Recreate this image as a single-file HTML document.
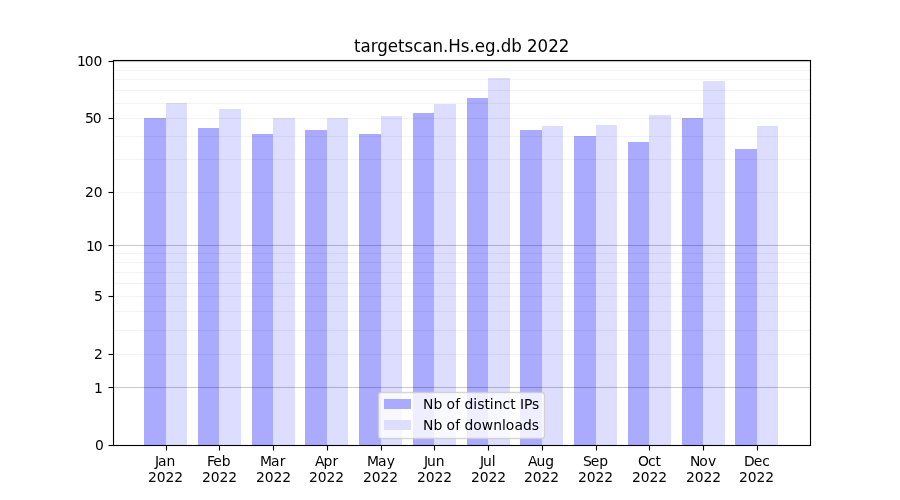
<!DOCTYPE html>
<html lang="en">
<head>
<meta charset="utf-8">
<title>targetscan.Hs.eg.db 2022</title>
<style>
html,body{margin:0;padding:0;background:#fff;}
body{width:900px;height:500px;overflow:hidden;}
svg{display:block;will-change:transform;}
text{font-family:"DejaVu Sans","Liberation Sans",sans-serif;fill:#000;white-space:pre;}
.t10{font-size:13.889px;}
.t12{font-size:16.667px;}
</style>
</head>
<body>
<svg width="900" height="500" viewBox="0 0 900 500">
<!-- bars: Nb of distinct IPs (#aaaaff) and Nb of downloads (#ddddff) per month -->
<g shape-rendering="crispEdges">
<rect x="144" y="118" width="22" height="327" fill="#aaaaff"/>
<rect x="166" y="103" width="21" height="342" fill="#ddddff"/>
<rect x="198" y="128" width="21" height="317" fill="#aaaaff"/>
<rect x="219" y="109" width="22" height="336" fill="#ddddff"/>
<rect x="252" y="134" width="21" height="311" fill="#aaaaff"/>
<rect x="273" y="118" width="22" height="327" fill="#ddddff"/>
<rect x="305" y="130" width="22" height="315" fill="#aaaaff"/>
<rect x="327" y="118" width="21" height="327" fill="#ddddff"/>
<rect x="359" y="134" width="22" height="311" fill="#aaaaff"/>
<rect x="381" y="116" width="21" height="329" fill="#ddddff"/>
<rect x="413" y="113" width="21" height="332" fill="#aaaaff"/>
<rect x="434" y="104" width="22" height="341" fill="#ddddff"/>
<rect x="467" y="98" width="21" height="347" fill="#aaaaff"/>
<rect x="488" y="78" width="22" height="367" fill="#ddddff"/>
<rect x="520" y="130" width="22" height="315" fill="#aaaaff"/>
<rect x="542" y="126" width="21" height="319" fill="#ddddff"/>
<rect x="574" y="136" width="22" height="309" fill="#aaaaff"/>
<rect x="596" y="125" width="21" height="320" fill="#ddddff"/>
<rect x="628" y="142" width="21" height="303" fill="#aaaaff"/>
<rect x="649" y="115" width="22" height="330" fill="#ddddff"/>
<rect x="682" y="118" width="21" height="327" fill="#aaaaff"/>
<rect x="703" y="81" width="22" height="364" fill="#ddddff"/>
<rect x="735" y="149" width="22" height="296" fill="#aaaaff"/>
<rect x="757" y="126" width="21" height="319" fill="#ddddff"/>
</g>
<!-- horizontal grid lines -->
<g shape-rendering="crispEdges" fill="#000">
<rect x="112.5" y="386" width="697.5" height="3" fill-opacity="0.011"/>
<rect x="112.5" y="387" width="697.5" height="1" fill-opacity="0.192"/>
<rect x="112.5" y="353" width="697.5" height="3" fill-opacity="0.004"/>
<rect x="112.5" y="354" width="697.5" height="1" fill-opacity="0.048"/>
<rect x="112.5" y="329" width="697.5" height="3" fill-opacity="0.004"/>
<rect x="112.5" y="330" width="697.5" height="1" fill-opacity="0.048"/>
<rect x="112.5" y="310" width="697.5" height="3" fill-opacity="0.004"/>
<rect x="112.5" y="311" width="697.5" height="1" fill-opacity="0.048"/>
<rect x="112.5" y="295" width="697.5" height="3" fill-opacity="0.004"/>
<rect x="112.5" y="296" width="697.5" height="1" fill-opacity="0.048"/>
<rect x="112.5" y="282" width="697.5" height="3" fill-opacity="0.004"/>
<rect x="112.5" y="283" width="697.5" height="1" fill-opacity="0.048"/>
<rect x="112.5" y="271" width="697.5" height="3" fill-opacity="0.004"/>
<rect x="112.5" y="272" width="697.5" height="1" fill-opacity="0.048"/>
<rect x="112.5" y="261" width="697.5" height="3" fill-opacity="0.004"/>
<rect x="112.5" y="262" width="697.5" height="1" fill-opacity="0.048"/>
<rect x="112.5" y="252" width="697.5" height="3" fill-opacity="0.004"/>
<rect x="112.5" y="253" width="697.5" height="1" fill-opacity="0.048"/>
<rect x="112.5" y="244" width="697.5" height="3" fill-opacity="0.011"/>
<rect x="112.5" y="245" width="697.5" height="1" fill-opacity="0.192"/>
<rect x="112.5" y="191" width="697.5" height="3" fill-opacity="0.004"/>
<rect x="112.5" y="192" width="697.5" height="1" fill-opacity="0.048"/>
<rect x="112.5" y="158" width="697.5" height="3" fill-opacity="0.004"/>
<rect x="112.5" y="159" width="697.5" height="1" fill-opacity="0.048"/>
<rect x="112.5" y="135" width="697.5" height="3" fill-opacity="0.004"/>
<rect x="112.5" y="136" width="697.5" height="1" fill-opacity="0.048"/>
<rect x="112.5" y="117" width="697.5" height="3" fill-opacity="0.004"/>
<rect x="112.5" y="118" width="697.5" height="1" fill-opacity="0.048"/>
<rect x="112.5" y="102" width="697.5" height="3" fill-opacity="0.004"/>
<rect x="112.5" y="103" width="697.5" height="1" fill-opacity="0.048"/>
<rect x="112.5" y="89" width="697.5" height="3" fill-opacity="0.004"/>
<rect x="112.5" y="90" width="697.5" height="1" fill-opacity="0.048"/>
<rect x="112.5" y="78" width="697.5" height="3" fill-opacity="0.004"/>
<rect x="112.5" y="79" width="697.5" height="1" fill-opacity="0.048"/>
<rect x="112.5" y="69" width="697.5" height="3" fill-opacity="0.004"/>
<rect x="112.5" y="70" width="697.5" height="1" fill-opacity="0.048"/>
<rect x="112.5" y="60" width="697.5" height="3" fill-opacity="0.011"/>
<rect x="112.5" y="61" width="697.5" height="1" fill-opacity="0.192"/>
</g>
<!-- axes frame and ticks -->
<g shape-rendering="crispEdges" fill="#000">
<rect x="112" y="60" width="3" height="386" fill-opacity="0.0555"/>
<rect x="113" y="59" width="1" height="388" fill-opacity="0.0555"/>
<rect x="809" y="60" width="3" height="386" fill-opacity="0.0555"/>
<rect x="810" y="59" width="1" height="388" fill-opacity="0.0555"/>
<rect x="113" y="59" width="698" height="3" fill-opacity="0.0555"/>
<rect x="112" y="60" width="700" height="1" fill-opacity="0.0555"/>
<rect x="113" y="444" width="698" height="3" fill-opacity="0.0555"/>
<rect x="112" y="445" width="700" height="1" fill-opacity="0.0555"/>
<rect x="113" y="60" width="1" height="386"/>
<rect x="810" y="60" width="1" height="386"/>
<rect x="113" y="60" width="698" height="1"/>
<rect x="113" y="445" width="698" height="1"/>
<rect x="165" y="446" width="3" height="4" fill-opacity="0.0555"/>
<rect x="165" y="450" width="3" height="1" fill-opacity="0.02775"/>
<rect x="166" y="446" width="1" height="4"/>
<rect x="166" y="450" width="1" height="1" fill-opacity="0.5"/>
<rect x="218" y="446" width="3" height="4" fill-opacity="0.0555"/>
<rect x="218" y="450" width="3" height="1" fill-opacity="0.02775"/>
<rect x="219" y="446" width="1" height="4"/>
<rect x="219" y="450" width="1" height="1" fill-opacity="0.5"/>
<rect x="272" y="446" width="3" height="4" fill-opacity="0.0555"/>
<rect x="272" y="450" width="3" height="1" fill-opacity="0.02775"/>
<rect x="273" y="446" width="1" height="4"/>
<rect x="273" y="450" width="1" height="1" fill-opacity="0.5"/>
<rect x="326" y="446" width="3" height="4" fill-opacity="0.0555"/>
<rect x="326" y="450" width="3" height="1" fill-opacity="0.02775"/>
<rect x="327" y="446" width="1" height="4"/>
<rect x="327" y="450" width="1" height="1" fill-opacity="0.5"/>
<rect x="380" y="446" width="3" height="4" fill-opacity="0.0555"/>
<rect x="380" y="450" width="3" height="1" fill-opacity="0.02775"/>
<rect x="381" y="446" width="1" height="4"/>
<rect x="381" y="450" width="1" height="1" fill-opacity="0.5"/>
<rect x="433" y="446" width="3" height="4" fill-opacity="0.0555"/>
<rect x="433" y="450" width="3" height="1" fill-opacity="0.02775"/>
<rect x="434" y="446" width="1" height="4"/>
<rect x="434" y="450" width="1" height="1" fill-opacity="0.5"/>
<rect x="487" y="446" width="3" height="4" fill-opacity="0.0555"/>
<rect x="487" y="450" width="3" height="1" fill-opacity="0.02775"/>
<rect x="488" y="446" width="1" height="4"/>
<rect x="488" y="450" width="1" height="1" fill-opacity="0.5"/>
<rect x="541" y="446" width="3" height="4" fill-opacity="0.0555"/>
<rect x="541" y="450" width="3" height="1" fill-opacity="0.02775"/>
<rect x="542" y="446" width="1" height="4"/>
<rect x="542" y="450" width="1" height="1" fill-opacity="0.5"/>
<rect x="595" y="446" width="3" height="4" fill-opacity="0.0555"/>
<rect x="595" y="450" width="3" height="1" fill-opacity="0.02775"/>
<rect x="596" y="446" width="1" height="4"/>
<rect x="596" y="450" width="1" height="1" fill-opacity="0.5"/>
<rect x="648" y="446" width="3" height="4" fill-opacity="0.0555"/>
<rect x="648" y="450" width="3" height="1" fill-opacity="0.02775"/>
<rect x="649" y="446" width="1" height="4"/>
<rect x="649" y="450" width="1" height="1" fill-opacity="0.5"/>
<rect x="702" y="446" width="3" height="4" fill-opacity="0.0555"/>
<rect x="702" y="450" width="3" height="1" fill-opacity="0.02775"/>
<rect x="703" y="446" width="1" height="4"/>
<rect x="703" y="450" width="1" height="1" fill-opacity="0.5"/>
<rect x="756" y="446" width="3" height="4" fill-opacity="0.0555"/>
<rect x="756" y="450" width="3" height="1" fill-opacity="0.02775"/>
<rect x="757" y="446" width="1" height="4"/>
<rect x="757" y="450" width="1" height="1" fill-opacity="0.5"/>
<rect x="109" y="444" width="4" height="3" fill-opacity="0.0555"/>
<rect x="108" y="444" width="1" height="3" fill-opacity="0.02775"/>
<rect x="109" y="445" width="4" height="1"/>
<rect x="108" y="445" width="1" height="1" fill-opacity="0.5"/>
<rect x="109" y="386" width="4" height="3" fill-opacity="0.0555"/>
<rect x="108" y="386" width="1" height="3" fill-opacity="0.02775"/>
<rect x="109" y="387" width="4" height="1"/>
<rect x="108" y="387" width="1" height="1" fill-opacity="0.5"/>
<rect x="109" y="353" width="4" height="3" fill-opacity="0.0555"/>
<rect x="108" y="353" width="1" height="3" fill-opacity="0.02775"/>
<rect x="109" y="354" width="4" height="1"/>
<rect x="108" y="354" width="1" height="1" fill-opacity="0.5"/>
<rect x="109" y="295" width="4" height="3" fill-opacity="0.0555"/>
<rect x="108" y="295" width="1" height="3" fill-opacity="0.02775"/>
<rect x="109" y="296" width="4" height="1"/>
<rect x="108" y="296" width="1" height="1" fill-opacity="0.5"/>
<rect x="109" y="244" width="4" height="3" fill-opacity="0.0555"/>
<rect x="108" y="244" width="1" height="3" fill-opacity="0.02775"/>
<rect x="109" y="245" width="4" height="1"/>
<rect x="108" y="245" width="1" height="1" fill-opacity="0.5"/>
<rect x="109" y="191" width="4" height="3" fill-opacity="0.0555"/>
<rect x="108" y="191" width="1" height="3" fill-opacity="0.02775"/>
<rect x="109" y="192" width="4" height="1"/>
<rect x="108" y="192" width="1" height="1" fill-opacity="0.5"/>
<rect x="109" y="117" width="4" height="3" fill-opacity="0.0555"/>
<rect x="108" y="117" width="1" height="3" fill-opacity="0.02775"/>
<rect x="109" y="118" width="4" height="1"/>
<rect x="108" y="118" width="1" height="1" fill-opacity="0.5"/>
<rect x="109" y="60" width="4" height="3" fill-opacity="0.0555"/>
<rect x="108" y="60" width="1" height="3" fill-opacity="0.02775"/>
<rect x="109" y="61" width="4" height="1"/>
<rect x="108" y="61" width="1" height="1" fill-opacity="0.5"/>
</g>
<!-- y tick labels -->
<g class="t10">
<text x="95" y="450">0</text>
<text x="94" y="393">1</text>
<text x="94" y="359">2</text>
<text x="94" y="301">5</text>
<text x="86 93.75" y="251">10</text>
<text x="85 93.75" y="197">20</text>
<text x="85 92.75" y="123">50</text>
<text x="77 84.75 93.5" y="66">100</text>
</g>
<!-- x tick labels -->
<g class="t10">
<text x="155 158 166.5" y="466">Jan</text>
<text x="148 156.75 165.5 174.25" y="482">2022</text>
<text x="207 213.25 221.75" y="466">Feb</text>
<text x="202 210.75 219.5 228.25" y="482">2022</text>
<text x="260 271 279.75" y="466">Mar</text>
<text x="256 264.75 273.5 282.25" y="482">2022</text>
<text x="315 323.5 332.5" y="466">Apr</text>
<text x="309 317.75 326.5 335.25" y="482">2022</text>
<text x="367 378 386.75" y="466">May</text>
<text x="363 371.75 380.5 389.25" y="482">2022</text>
<text x="424 427 435.75" y="466">Jun</text>
<text x="417 425.75 434.5 443.25" y="482">2022</text>
<text x="480 483 491.75" y="466">Jul</text>
<text x="471 479.75 488.5 497.25" y="482">2022</text>
<text x="528 536.5 545.25" y="466">Aug</text>
<text x="524 532.75 541.5 550.25" y="482">2022</text>
<text x="583 590.75 599.25" y="466">Sep</text>
<text x="578 586.75 595.5 604.25" y="482">2022</text>
<text x="638 648 655.5" y="466">Oct</text>
<text x="632 640.75 649.5 658.25" y="482">2022</text>
<text x="690 699.25 708" y="466">Nov</text>
<text x="686 694.75 703.5 712.25" y="482">2022</text>
<text x="744 753.75 762.25" y="466">Dec</text>
<text x="739 747.75 756.5 765.25" y="482">2022</text>
</g>
<!-- title -->
<text class="t12" transform="translate(0,52) scale(1,1.07)" x="354 360.5 370.75 377.25 387.75 398 404.5 413.25 422.25 432.5 443 448.25 460.75 469.5 474.75 485 495.5 500.75 511.25 522 527 537.5 548.25 558.75" y="0">targetscan.Hs.eg.db 2022</text>
<!-- legend -->
<rect x="378.5" y="392.5" width="166" height="46" rx="2.78" ry="2.78" fill="#ffffff" fill-opacity="0.8" stroke="#cccccc" stroke-opacity="0.8" stroke-width="1.389"/>
<g shape-rendering="crispEdges">
<rect x="384" y="399" width="27" height="10" fill="#aaaaff"/>
<rect x="384" y="420" width="27" height="10" fill="#ddddff"/>
</g>
<g class="t10">
<text x="423 433.5 442.25 446.5 455.25 460 464.5 473.25 477.25 484.5 489.75 493.75 502.5 510.25 515.5 520 524 532" y="409">Nb of distinct IPs</text>
<text x="423 433.5 442.25 446.5 455.25 460 464.5 473.25 481.75 493.25 502 505.75 514.5 523 531.75" y="430">Nb of downloads</text>
</g>
</svg>
</body>
</html>
